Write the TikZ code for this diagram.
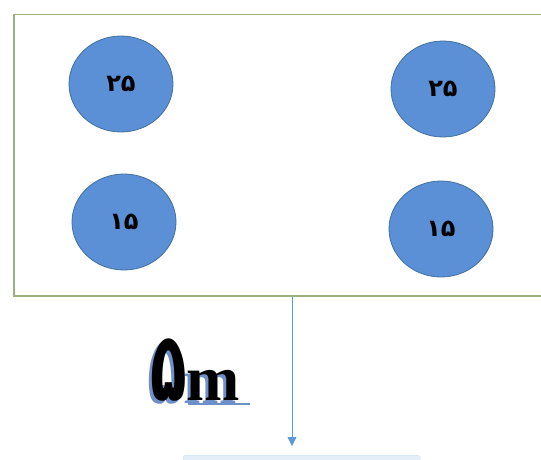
\documentclass[tikz,border=0pt]{standalone}
\usepackage{fontspec}
\usetikzlibrary{shapes.geometric,arrows.meta}
\newfontfamily\fadigits[Script=Arabic]{DejaVu Sans}
\newfontfamily\serifm{Liberation Serif}
\definecolor{framegreen}{HTML}{9DAF7F}
\definecolor{ballfill}{HTML}{5B8FD6}
\definecolor{ballline}{HTML}{41719C}
\definecolor{arrowblue}{HTML}{5B9BD5}
\definecolor{shadowblue}{HTML}{6F8FC8}
\definecolor{paleblue}{HTML}{E3EEF8}
\newcommand{\fivem}{{\fadigits\bfseries\fontsize{60}{62}\selectfont\scalebox{1.0}[1.6]{۵}}{\serifm\bfseries\fontsize{64}{66}\selectfont m}}
\newcommand{\shadowed}[1]{\makebox[0pt][l]{\hspace{-3pt}\raisebox{-3pt}{\color{shadowblue}#1}}#1}
\tikzset{
  ball/.style={ellipse, fill=ballfill, draw=ballline, line width=0.8pt,
    minimum width=104pt, minimum height=96pt, inner sep=0pt,
    font=\fadigits\bfseries\fontsize{24}{26}\selectfont},
  frame/.style={draw=framegreen, line width=1.5pt, rectangle, inner sep=0pt},
  conn/.style={draw=arrowblue, line width=0.9pt, -{Triangle[length=9pt,width=9pt]}},
}
\begin{document}
\begin{tikzpicture}[x=1pt,y=-1pt]
\useasboundingbox (0,0) rectangle (541,460);
\fill[white] (0,0) rectangle (541,460);
\node[frame, minimum width=560pt, minimum height=281pt, anchor=north west] (frame) at (13,14) {};
\node[ball] (tl) at (121,84) {۲۵};
\node[ball] (tr) at (443,89) {۲۵};
\node[ball] (bl) at (124,222) {۱۵};
\node[ball] (br) at (441,229) {۱۵};
\node[fill=paleblue, draw=paleblue!80!arrowblue, rectangle, rounded corners=3pt, minimum width=237pt, minimum height=20pt, anchor=north west] (bottombox) at (183,455) {};
\coordinate (tip) at (292,446);
\draw[conn] (frame.south -| tip) -- (tip);
\node[anchor=base west, inner sep=0pt, text=black] (lbl) at (150,400) {\shadowed{\fivem}};
\draw[shadowblue, line width=1.6pt] (188,404) -- (250,404);
\end{tikzpicture}
\end{document}
